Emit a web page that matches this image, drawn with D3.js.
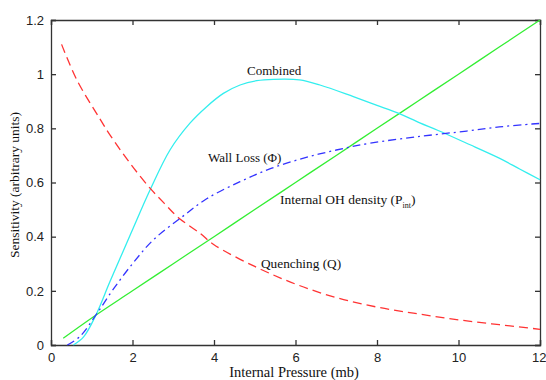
<!DOCTYPE html>
<html><head><meta charset="utf-8">
<script src="https://cdn.jsdelivr.net/npm/d3@7"></script>
<style>body{margin:0;background:#fff}svg{display:block}</style>
</head><body><svg id="c" width="546" height="380"></svg>
<script>
const xTicks = [0,2,4,6,8,10,12];
const yTicks = [0,0.2,0.4,0.6,0.8,1,1.2];
const quenchX = [0.26,0.63,1.2,1.45,1.94,2.43,2.8,3.12,3.66,4,5,6,7,8,9,10,11,12];
const quenchY = [1.11,0.98,0.835,0.775,0.671,0.579,0.52,0.471,0.412,0.37,0.29,0.225,0.175,0.14,0.115,0.093,0.075,0.058];
const ohX = [0.3,1,2,3,4,5,6,7,8,9,10,11,12];
const ohY = [0.025,0.1,0.2,0.3,0.4,0.5,0.6,0.7,0.8,0.9,1.0,1.1,1.2];
const combX = [0.55,0.8,1.1,1.45,1.97,2.43,2.92,3.41,3.82,4.23,4.64,5.05,5.46,6.1,6.6,7.42,8.0,8.52,9.05,9.5,10.2,11,11.5,12];
const combY = [0,0.03,0.11,0.235,0.415,0.572,0.72,0.819,0.88,0.929,0.96,0.976,0.981,0.979,0.96,0.917,0.885,0.856,0.82,0.792,0.745,0.69,0.65,0.61];
const wallX = [0.4,0.7,1.1,1.5,2.0,2.51,3.2,3.82,4.64,5.4,6.2,7.0,7.83,9.05,10.2,11,11.8,12];
const wallY = [0,0.03,0.11,0.2,0.30,0.388,0.471,0.54,0.603,0.652,0.69,0.72,0.745,0.77,0.79,0.805,0.816,0.818];

const svg = d3.select("#c");
const m = {l:51, r:6, t:20, b:35};
const W = 546, H = 380;
const x = d3.scaleLinear().domain([0,12]).range([m.l, W-m.r]);
const y = d3.scaleLinear().domain([0,1.2]).range([H-m.b, m.t]);
const axisCol = "#333";

function fmt(d){ return d3.format("")(d); }

const gx = svg.append("g").attr("transform",`translate(0,${H-m.b})`)
  .call(d3.axisBottom(x).tickValues(xTicks).tickSize(-5).tickPadding(8).tickFormat(fmt));
const gxt = svg.append("g").attr("transform",`translate(0,${m.t})`)
  .call(d3.axisTop(x).tickValues(xTicks).tickSize(-5).tickFormat(""));
const gy = svg.append("g").attr("transform",`translate(${m.l},0)`)
  .call(d3.axisLeft(y).tickValues(yTicks).tickSize(-5).tickPadding(7).tickFormat(fmt));
const gyr = svg.append("g").attr("transform",`translate(${W-m.r},0)`)
  .call(d3.axisRight(y).tickValues(yTicks).tickSize(-5).tickFormat(""));
[gx,gxt,gy,gyr].forEach(g=>{
  g.selectAll("path,line").attr("stroke",axisCol).attr("stroke-width",1.3);
  g.selectAll("text").attr("fill","#222").style("font-family","'Liberation Sans',Arial,sans-serif").style("font-size","13px");
});
gx.selectAll(".tick text").filter(d=>d===12).attr("text-anchor","end").attr("dx",6);

const line = d3.line().x(d=>x(d[0])).y(d=>y(d[1])).curve(d3.curveCatmullRom.alpha(0.5));
function draw(xs, ys, col, dash){
  svg.append("path").datum(xs.map((v,i)=>[v,ys[i]]))
    .attr("d", line).attr("fill","none").attr("stroke",col).attr("stroke-width",1.3)
    .attr("stroke-dasharray", dash);
}
draw(ohX, ohY, "#33ee33", null);
draw(combX, combY, "#33eeee", null);
draw(quenchX, quenchY, "#ff3333", "9,5");
draw(wallX, wallY, "#3333ff", "8,4,2,4");

const serif = "'Liberation Serif','Times New Roman',serif";
function label(t, px, py, fs){
  return svg.append("text").attr("x",px).attr("y",py).attr("fill","#111")
    .style("font-family",serif).style("font-size",(fs||13)+"px").text(t);
}
label("Combined", 247, 75);
label("Wall Loss (Φ)", 208, 162);
const oh = label("Internal OH density (P", 280, 204, 13.5);
oh.append("tspan").attr("dy",4).style("font-size","8px").text("int");
oh.append("tspan").attr("dy",-4).text(")");
label("Quenching (Q)", 261, 268, 13.3);

svg.append("text").attr("x",294).attr("y",377).attr("text-anchor","middle")
  .attr("fill","#111").style("font-family",serif).style("font-size","14.5px").text("Internal Pressure  (mb)");
svg.append("text").attr("transform",`translate(19,185) rotate(-90)`).attr("text-anchor","middle")
  .attr("fill","#111").style("font-family",serif).style("font-size","13.5px").text("Sensitivity (arbitrary units)");
</script></body></html>
